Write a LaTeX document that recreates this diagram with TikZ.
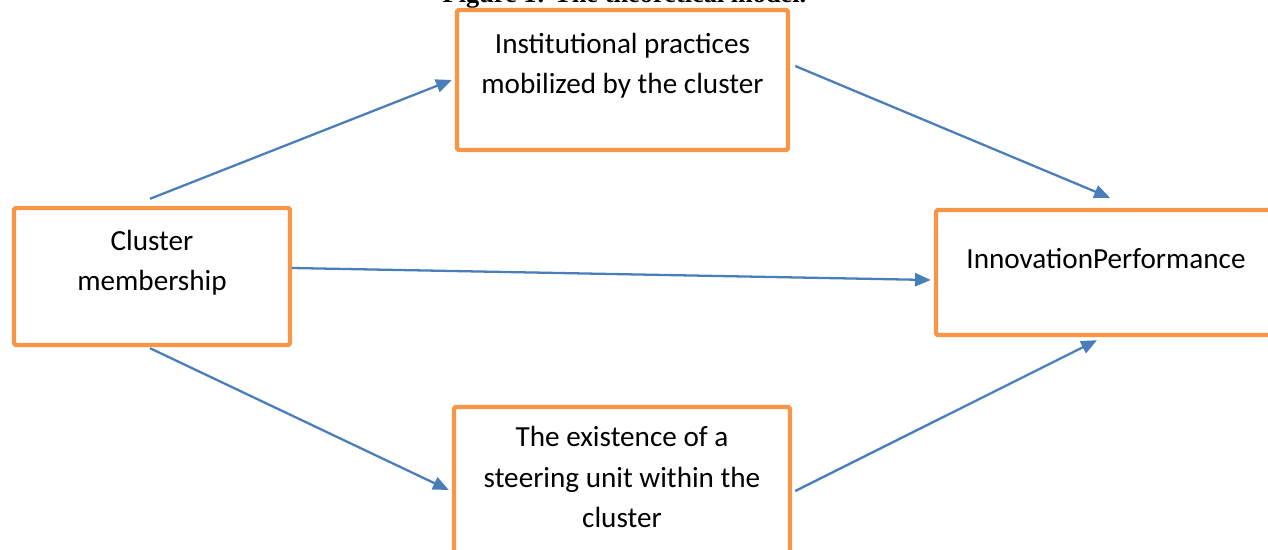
\documentclass[tikz,border=0pt]{standalone}
\usepackage{fontspec}
\setmainfont{Carlito}
\newfontfamily\titlefont{Liberation Serif}
\usepackage{tikz}
\usetikzlibrary{positioning,calc}
\usetikzlibrary{arrows.meta}

\definecolor{boxorange}{HTML}{F79646}
\definecolor{arrowblue}{HTML}{4A7EBB}

\begin{document}
\begin{tikzpicture}[box/.style={rectangle,draw=boxorange,line width=2.5pt,rounded corners=1pt,fill=white},
    txt/.style={align=center,font=\fontsize{16.6}{22.8}\selectfont,inner sep=0pt},
    link/.style={draw=arrowblue,line width=1.3pt,-{Triangle[length=9pt,width=7.5pt]}}]
    \clip (0,0) rectangle (25.36,-11);
    % title, cut off at the top of the page
    \node[anchor=base,font=\titlefont\bfseries\fontsize{15}{18}\selectfont] (title) at (12.49,-0.06) {Figure 1: The theoretical model.};
    % boxes
    \node[box,minimum width=5.52cm,minimum height=2.74cm] (clu) at (3.04,-5.53) {};
    \node[box,minimum width=6.62cm,minimum height=2.8cm] (inst) at (12.45,-1.6) {};
    \node[box,minimum width=6.8cm,minimum height=2.5cm] (inn) at (22.12,-5.45) {};
    \node[box,minimum width=6.72cm,minimum height=3.36cm] (ext) at (12.44,-9.82) {};
    % texts
    \node[txt] (clutxt) at ([yshift=0.28cm]clu.center) {Cluster\\membership};
    \node[txt] (insttxt) at ([yshift=0.28cm]inst.center) {Institutional practices\\mobilized by the cluster};
    \node[txt] (inntxt) at ([yshift=0.28cm]inn.center) {InnovationPerformance};
    \node[txt] (exttxt) at ([yshift=0.28cm]ext.center) {The existence of a\\steering unit within the\\cluster};
    % arrows
    \draw[link] ([shift={(-0.04,0.14)}]clu.north) -- ([shift={(-0.06,0)}]inst.west);
    \draw[link] ([shift={(0.1,0.28)}]inst.east) -- ([shift={(0.08,0.2)}]inn.north);
    \draw[link] ([yshift=0.17cm]clu.east) -- ([shift={(-0.06,-0.15)}]inn.west);
    \draw[link] ([shift={(-0.04,-0.02)}]clu.south) -- ([shift={(-0.06,0.02)}]ext.west);
    \draw[link] ([xshift=0.06cm]ext.east) -- ([shift={(-0.18,-0.06)}]inn.south);
\end{tikzpicture}
\end{document}
